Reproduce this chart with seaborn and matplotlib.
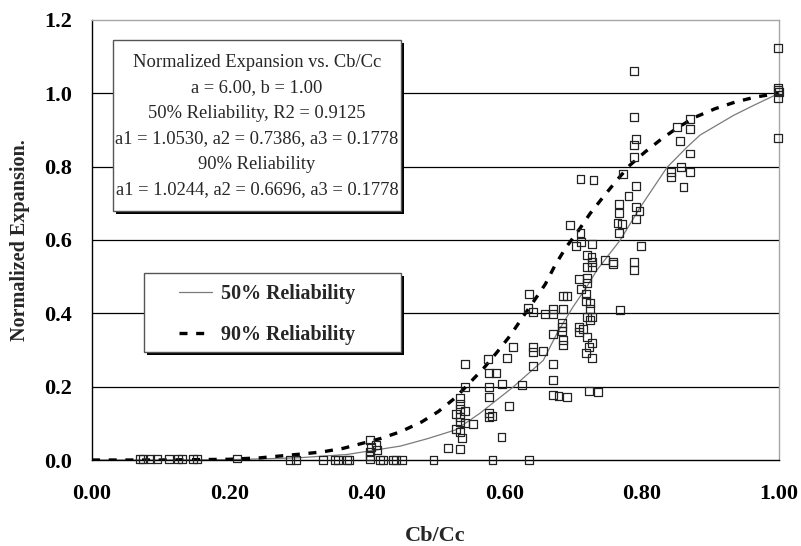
import matplotlib
matplotlib.use("Agg")
import matplotlib.pyplot as plt
import matplotlib.patches as mpatches
import numpy as np
import seaborn as sns

cb_cc = [
    0.070, 0.074, 0.084, 0.095, 0.112, 0.125, 0.131, 0.147, 0.153, 0.211,
    0.288, 0.297, 0.336, 0.354, 0.358, 0.371, 0.374,
    0.405, 0.406, 0.405, 0.405, 0.405, 0.414, 0.415, 0.419, 0.424, 0.438,
    0.443, 0.451, 0.497,
    0.518, 0.536, 0.543, 0.543, 0.536, 0.536, 0.536, 0.543, 0.530, 0.536,
    0.536, 0.543, 0.555, 0.530, 0.536, 0.539,
    0.583, 0.636, 0.578, 0.578, 0.582, 0.578, 0.578, 0.578, 0.588, 0.577,
    0.597, 0.604, 0.613, 0.607, 0.596, 0.626, 0.642, 0.642, 0.642, 0.657,
    0.636, 0.635, 0.642, 0.660, 0.671, 0.671, 0.686, 0.686, 0.692, 0.671,
    0.671, 0.671, 0.671, 0.679, 0.692, 0.684, 0.684, 0.684, 0.686, 0.686,
    0.711, 0.728, 0.705, 0.712, 0.721, 0.727, 0.721, 0.728, 0.728, 0.747,
    0.759, 0.759, 0.789, 0.789, 0.799, 0.767, 0.709, 0.721, 0.721, 0.712,
    0.719, 0.719, 0.725, 0.725, 0.769, 0.721, 0.728, 0.725, 0.709, 0.715,
    0.709, 0.721, 0.728, 0.724, 0.719, 0.728, 0.724, 0.737,
    0.789, 0.789, 0.792, 0.789, 0.789, 0.773, 0.792, 0.781, 0.767, 0.767,
    0.792, 0.797, 0.792, 0.765, 0.772, 0.711, 0.730, 0.696,
    0.871, 0.871, 0.852, 0.856, 0.871, 0.858, 0.843, 0.843, 0.871, 0.861,
    0.999, 0.999, 0.999, 1.000, 0.999, 0.999,
]
norm_exp = [
    0.002, 0.002, 0.002, 0.002, 0.002, 0.002, 0.002, 0.002, 0.002, 0.004,
    0.001, 0.001, 0.001, 0.001, 0.001, 0.001, 0.001,
    0.054, 0.035, 0.022, 0.011, 0.003, 0.041, 0.027, 0.000, 0.000, 0.000,
    0.000, 0.000, 0.000,
    0.033, 0.030, 0.262, 0.199, 0.169, 0.153, 0.139, 0.134, 0.125, 0.117,
    0.104, 0.101, 0.098, 0.084, 0.076, 0.060,
    0.000, 0.000, 0.128, 0.117, 0.120, 0.172, 0.199, 0.237, 0.237, 0.275,
    0.207, 0.278, 0.308, 0.147, 0.063, 0.204, 0.256, 0.294, 0.308, 0.297,
    0.452, 0.414, 0.403, 0.398, 0.398, 0.411, 0.411, 0.447, 0.447, 0.343,
    0.262, 0.218, 0.177, 0.174, 0.172, 0.373, 0.362, 0.351, 0.327, 0.313,
    0.619, 0.589, 0.583, 0.594, 0.559, 0.553, 0.526, 0.526, 0.540, 0.545,
    0.540, 0.534, 0.540, 0.518, 0.583, 0.619, 0.493, 0.496, 0.482, 0.466,
    0.452, 0.433, 0.428, 0.411, 0.409, 0.390, 0.390, 0.381, 0.362, 0.357,
    0.349, 0.335, 0.319, 0.308, 0.292, 0.278, 0.188, 0.185,
    1.060, 0.935, 0.875, 0.858, 0.826, 0.779, 0.747, 0.719, 0.698, 0.673,
    0.689, 0.678, 0.657, 0.646, 0.643, 0.766, 0.763, 0.640,
    0.929, 0.902, 0.907, 0.869, 0.836, 0.798, 0.785, 0.771, 0.785, 0.744,
    1.123, 1.016, 1.008, 1.003, 0.986, 0.877,
]

# fitted curves
fit50_x = [0.0, 0.10, 0.20, 0.245, 0.30, 0.371, 0.449, 0.488, 0.529, 0.548,
           0.565, 0.613, 0.657, 0.677, 0.700, 0.720, 0.735, 0.769, 0.798,
           0.837, 0.866, 0.885, 0.934, 0.963, 1.0]
fit50_y = [0.0, 0.0, 0.001, 0.003, 0.006, 0.015, 0.038, 0.058, 0.082, 0.106,
           0.128, 0.199, 0.272, 0.346, 0.417, 0.472, 0.518, 0.600, 0.689,
           0.798, 0.853, 0.886, 0.940, 0.967, 1.0]

fit90_x = [0.0, 0.05, 0.10, 0.15, 0.20, 0.245, 0.303, 0.335, 0.366, 0.419,
           0.449, 0.480, 0.504, 0.529, 0.550, 0.570, 0.590, 0.609, 0.626,
           0.642, 0.660, 0.674, 0.690, 0.706, 0.725, 0.744, 0.764, 0.783,
           0.805, 0.830, 0.853, 0.878, 0.907, 0.936, 0.966, 1.0]
fit90_y = [0.0, 0.0, 0.0, 0.001, 0.002, 0.006, 0.016, 0.022, 0.032, 0.058,
           0.077, 0.104, 0.132, 0.170, 0.211, 0.250, 0.295, 0.340, 0.387,
           0.430, 0.480, 0.531, 0.580, 0.620, 0.672, 0.717, 0.763, 0.804,
           0.840, 0.877, 0.907, 0.935, 0.958, 0.976, 0.990, 1.0]

box_lines = [
    "Normalized Expansion vs. Cb/Cc",
    "a = 6.00, b = 1.00",
    "50% Reliability, R2 = 0.9125",
    "a1 = 1.0530, a2 = 0.7386, a3 = 0.1778",
    "90% Reliability",
    "a1 = 1.0244, a2 = 0.6696, a3 = 0.1778",
]

x_ticks = [0.0, 0.2, 0.4, 0.6, 0.8, 1.0]
y_ticks = [0.0, 0.2, 0.4, 0.6, 0.8, 1.0, 1.2]

sns.set_style("white")
plt.rcParams["font.family"] = ["Liberation Serif", "DejaVu Serif"]

fig = plt.figure(figsize=(8.01, 5.46), dpi=100)
ax = fig.add_axes([0.1149, 0.1575, 0.8576, 0.8059])

for yv in y_ticks[1:-1]:
    ax.axhline(yv, color="black", lw=0.9, zorder=0)

sns.lineplot(x=fit50_x, y=fit50_y, ax=ax, color="#7a7a7a", lw=0.9,
             estimator=None, sort=False, label="50% Reliability", zorder=2)
sns.lineplot(x=fit90_x, y=fit90_y, ax=ax, color="black", lw=2.4,
             linestyle=(0, (2.4, 2.6)), estimator=None, sort=False,
             label="90% Reliability", zorder=2)
sns.scatterplot(x=cb_cc, y=norm_exp, ax=ax, marker="s", s=32,
                facecolors="none", edgecolor="#222222", linewidth=0.9,
                clip_on=False, zorder=3, legend=False)

ax.set_xlim(0, 1.0)
ax.set_ylim(0, 1.2)
ax.set_xticks(x_ticks, [f"{v:.2f}" for v in x_ticks], fontweight="bold", fontsize=16)
ax.set_yticks(y_ticks, [f"{v:.1f}" for v in y_ticks], fontweight="bold", fontsize=16)
ax.set_xticks(np.arange(0, 1.001, 0.04), minor=True)
ax.set_yticks(np.arange(0, 1.201, 0.04), minor=True)
ax.tick_params(axis="x", which="major", direction="out", length=6, width=1, pad=11, colors="black")
ax.tick_params(axis="x", which="minor", direction="out", length=3.5, width=1, colors="black")
ax.tick_params(axis="y", which="both", direction="out", length=4.5, width=1, pad=10, colors="black")

ax.set_xlabel("Cb/Cc", fontsize=16, fontweight="bold", labelpad=16)
ax.set_ylabel("Normalized Expansion.", fontsize=14.5, fontweight="bold", labelpad=10)

for side in ["left", "bottom"]:
    ax.spines[side].set_color("black")
    ax.spines[side].set_linewidth(1)
for side in ["top", "right"]:
    ax.spines[side].set_color("#a6a6a6")
    ax.spines[side].set_linewidth(1)

# text box with shadow
dx, dy = 3 / 687, 3 / 440
bx0, by0, bw, bh = 0.0306, 0.566, 0.4192, 0.3885
ax.add_patch(mpatches.Rectangle((bx0 + dx, by0 - dy), bw, bh, transform=ax.transAxes,
                                facecolor="black", edgecolor="none", zorder=5, clip_on=False))
ax.add_patch(mpatches.Rectangle((bx0, by0), bw, bh, transform=ax.transAxes,
                                facecolor="white", edgecolor="#555555", lw=1, zorder=5, clip_on=False))
ax.text(bx0 + bw / 2, 0.759, "\n".join(box_lines), transform=ax.transAxes,
        ha="center", va="center", fontsize=13.3, linespacing=1.65, zorder=6)

# legend box with shadow
lx0, ly0, lw_, lh = 0.0757, 0.245, 0.3741, 0.18
ax.add_patch(mpatches.Rectangle((lx0 + dx, ly0 - dy), lw_, lh, transform=ax.transAxes,
                                facecolor="black", edgecolor="none", zorder=5, clip_on=False))
ax.add_patch(mpatches.Rectangle((lx0, ly0), lw_, lh, transform=ax.transAxes,
                                facecolor="white", edgecolor="#555555", lw=1, zorder=5, clip_on=False))
leg = ax.legend(loc="center", bbox_to_anchor=(0.2550, 0.330), frameon=False,
                prop={"weight": "bold", "size": 14.4}, handlelength=1.65,
                handletextpad=0.45, labelspacing=1.04)
leg.set_zorder(7)

fig.savefig("out.png", dpi=100)
